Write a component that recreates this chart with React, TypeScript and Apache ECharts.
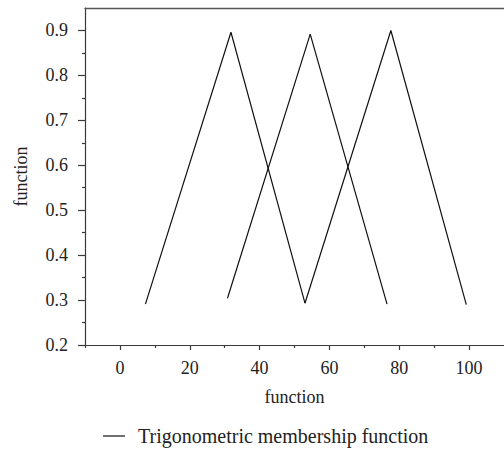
import React, { useEffect, useRef } from "react";
import * as echarts from "echarts";

const seriesName = "Trigonometric membership function";
const axisTitleX = "function";
const axisTitleY = "function";

// Three triangular membership functions (x, y)
const tri1X = [7.3, 31.8, 53.0];
const tri1Y = [0.291, 0.896, 0.293];
const tri2X = [30.8, 54.5, 76.5];
const tri2Y = [0.304, 0.892, 0.291];
const tri3X = [53.0, 77.6, 99.2];
const tri3Y = [0.293, 0.9, 0.29];

const xTicks = [0, 20, 40, 60, 80, 100];
const xMinorTicks = [-10, 10, 30, 50, 70, 90];
const yTicks = [0.2, 0.3, 0.4, 0.5, 0.6, 0.7, 0.8, 0.9];
const yMinorTicks = [0.25, 0.35, 0.45, 0.55, 0.65, 0.75, 0.85];

const X_MIN = -10;
const X_MAX = 110;
const Y_MIN = 0.2;
const Y_MAX = 0.95;

const FONT = "Liberation Serif";
const AXIS_COLOR = "#3a3a3a";
const TEXT_COLOR = "#222";

function pairs(xs: number[], ys: number[]) {
  return xs.map((x, i) => [x, ys[i]]);
}

export default function App() {
  const ref = useRef<HTMLDivElement>(null);

  useEffect(() => {
    if (!ref.current) return;
    const chart = echarts.init(ref.current, null, { renderer: "svg" });
    const gridPos = { left: 85, top: 8, width: 420, height: 337 };
    const lineSeries = (xs: number[], ys: number[]) => ({
      type: "line",
      name: seriesName,
      xAxisIndex: 0,
      yAxisIndex: 0,
      data: pairs(xs, ys),
      symbol: "none",
      lineStyle: { color: "#111", width: 1.2 },
      itemStyle: { color: "#111" },
    });
    const labelStyle = {
      fontFamily: FONT,
      fontSize: 18,
      color: TEXT_COLOR,
    };
    const richLabel = { t: { ...labelStyle } };
    chart.setOption({
      animation: false,
      backgroundColor: "#fff",
      textStyle: { fontFamily: FONT },
      grid: [
        { ...gridPos, containLabel: false },
        { ...gridPos, containLabel: false },
      ],
      xAxis: [
        {
          type: "value",
          gridIndex: 0,
          position: "bottom",
          min: X_MIN,
          max: X_MAX,
          axisLine: {
            show: true,
            onZero: false,
            lineStyle: { color: AXIS_COLOR, width: 1.2 },
          },
          axisTick: {
            show: true,
            customValues: xTicks,
            length: 5,
            lineStyle: { color: AXIS_COLOR, width: 1.2 },
          },
          axisLabel: {
            customValues: xTicks,
            margin: 14,
            ...labelStyle,
            formatter: (v: number) => `{t|${v}}`,
            rich: richLabel,
          },
          splitLine: { show: false },
          name: axisTitleX,
          nameLocation: "middle",
          nameGap: 43,
          nameTextStyle: labelStyle,
        },
        {
          type: "value",
          gridIndex: 0,
          position: "top",
          min: X_MIN,
          max: X_MAX,
          axisLine: {
            show: true,
            onZero: false,
            lineStyle: { color: "#555", width: 1.3 },
          },
          axisTick: { show: false },
          axisLabel: { show: false },
          splitLine: { show: false },
        },
        {
          type: "value",
          gridIndex: 1,
          position: "bottom",
          min: X_MIN,
          max: X_MAX,
          axisLine: { show: false, onZero: false },
          axisTick: {
            show: true,
            customValues: xMinorTicks,
            length: 3,
            lineStyle: { color: AXIS_COLOR, width: 1.2 },
          },
          axisLabel: { show: false },
          splitLine: { show: false },
        },
      ],
      yAxis: [
        {
          type: "value",
          gridIndex: 0,
          position: "left",
          min: Y_MIN,
          max: Y_MAX,
          axisLine: {
            show: true,
            onZero: false,
            lineStyle: { color: AXIS_COLOR, width: 1.2 },
          },
          axisTick: {
            show: true,
            customValues: yTicks,
            length: 7,
            lineStyle: { color: AXIS_COLOR, width: 1.2 },
          },
          axisLabel: {
            customValues: yTicks,
            margin: 17,
            ...labelStyle,
            formatter: (v: number) => `{t|${v.toFixed(1)}}`,
            rich: richLabel,
          },
          splitLine: { show: false },
          name: axisTitleY,
          nameLocation: "middle",
          nameGap: 55,
          nameTextStyle: labelStyle,
        },
        {
          type: "value",
          gridIndex: 1,
          position: "left",
          min: Y_MIN,
          max: Y_MAX,
          axisLine: { show: false, onZero: false },
          axisTick: {
            show: true,
            customValues: yMinorTicks,
            length: 3,
            lineStyle: { color: AXIS_COLOR, width: 1.2 },
          },
          axisLabel: { show: false },
          splitLine: { show: false },
        },
      ],
      legend: {
        data: [{ name: seriesName, icon: "rect" }],
        left: 98,
        top: 421,
        itemWidth: 22,
        itemHeight: 1.2,
        itemStyle: { color: "#111" },
        textStyle: {
          ...labelStyle,
          fontSize: 20,
          padding: [0, 0, 0, 8],
        },
      },
      series: [
        lineSeries(tri1X, tri1Y),
        lineSeries(tri2X, tri2Y),
        lineSeries(tri3X, tri3Y),
      ],
    });
    return () => chart.dispose();
  }, []);

  return (
    <div
      ref={ref}
      style={{ position: "absolute", left: 0, top: 0, width: 504, height: 462 }}
    />
  );
}
